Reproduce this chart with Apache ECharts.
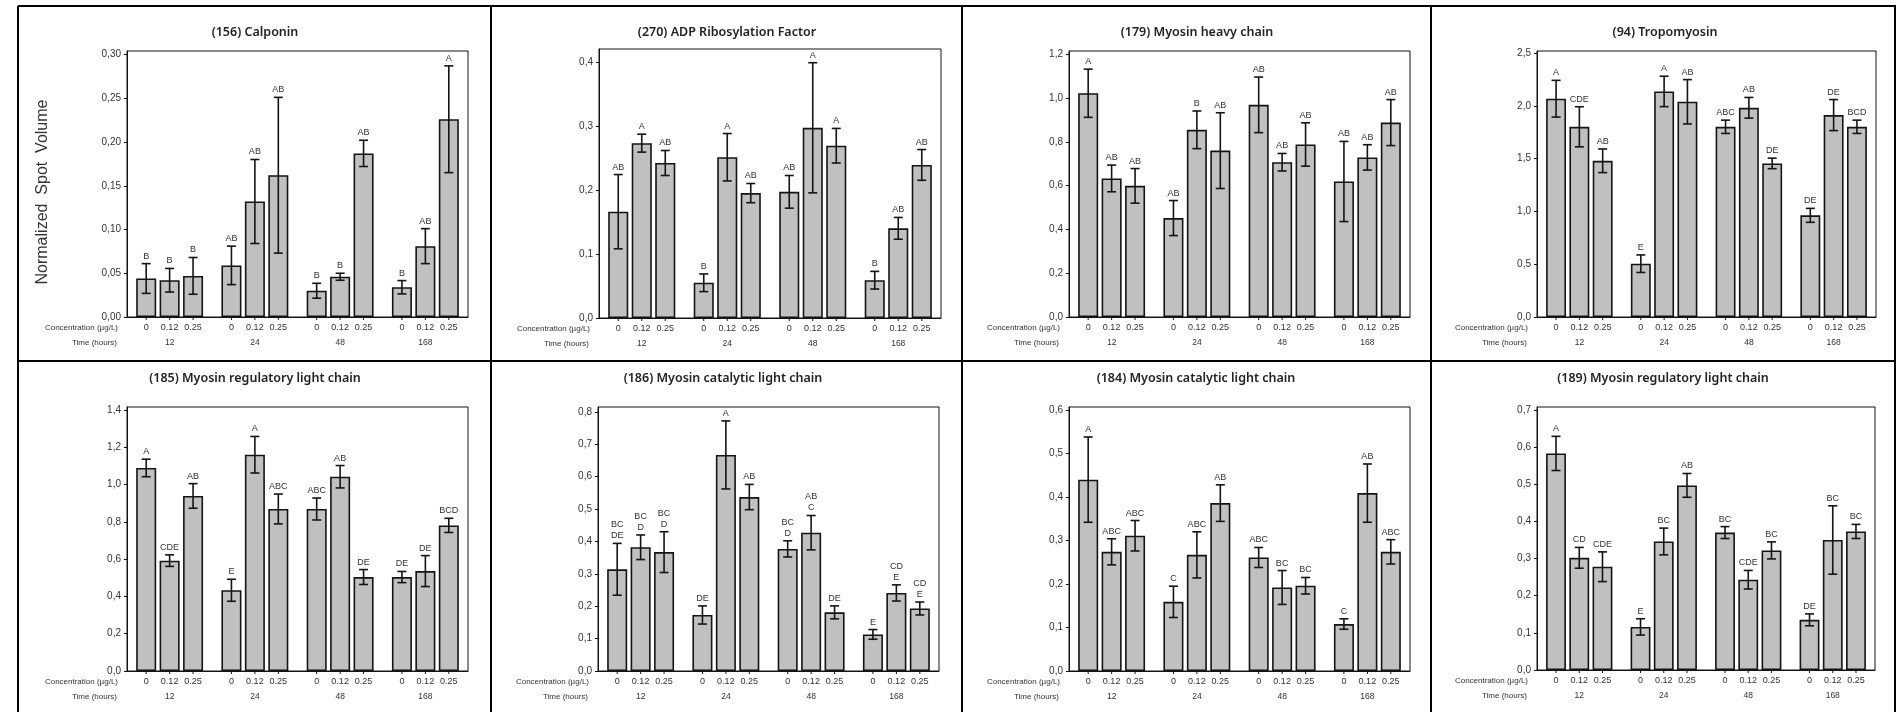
<!DOCTYPE html>
<html>
<head>
<meta charset="utf-8">
<script src="https://cdn.jsdelivr.net/npm/echarts@6/dist/echarts.min.js"></script>
<style>
  html, body { margin: 0; padding: 0; background: #fff; }
  #chart { width: 1903px; height: 712px; }
</style>
</head>
<body>
<div id="chart"></div>
<script>
// Shared categories
const times = ['12', '24', '48', '168'];
const concentrations = ['0', '0.12', '0.25'];

// Values are listed time-major: 12h (0, 0.12, 0.25), 24h (...), 48h (...), 168h (...)

// (156) Calponin
const calponinMean = [0.044, 0.042, 0.047, 0.059, 0.132, 0.162, 0.030, 0.046, 0.187, 0.034, 0.081, 0.226];
const calponinErr = [0.017, 0.0135, 0.021, 0.022, 0.048, 0.089, 0.0085, 0.004, 0.015, 0.0076, 0.020, 0.061];
const calponinLetters = ['B', 'B', 'B', 'AB', 'AB', 'AB', 'B', 'B', 'AB', 'B', 'AB', 'A'];
const calponinTicks = [0, 0.05, 0.10, 0.15, 0.20, 0.25, 0.30];

// (270) ADP Ribosylation Factor
const arfMean = [0.166, 0.273, 0.242, 0.055, 0.251, 0.195, 0.197, 0.297, 0.269, 0.059, 0.140, 0.239];
const arfErr = [0.058, 0.014, 0.0195, 0.0138, 0.037, 0.015, 0.0255, 0.1016, 0.027, 0.0138, 0.017, 0.024];
const arfLetters = ['AB', 'A', 'AB', 'B', 'A', 'AB', 'AB', 'A', 'A', 'B', 'AB', 'AB'];
const arfTicks = [0, 0.1, 0.2, 0.3, 0.4];

// (179) Myosin heavy chain
const mhcMean = [1.022, 0.633, 0.599, 0.452, 0.855, 0.760, 0.969, 0.707, 0.788, 0.619, 0.729, 0.888];
const mhcErr = [0.110, 0.061, 0.079, 0.080, 0.086, 0.173, 0.127, 0.040, 0.099, 0.183, 0.058, 0.105];
const mhcLetters = ['A', 'AB', 'AB', 'AB', 'B', 'AB', 'AB', 'AB', 'AB', 'AB', 'AB', 'AB'];
const mhcTicks = [0, 0.2, 0.4, 0.6, 0.8, 1.0, 1.2];

// (94) Tropomyosin
const tropoMean = [2.068, 1.802, 1.480, 0.505, 2.137, 2.039, 1.802, 1.982, 1.455, 0.963, 1.913, 1.802];
const tropoErr = [0.174, 0.190, 0.112, 0.083, 0.144, 0.210, 0.063, 0.098, 0.050, 0.066, 0.147, 0.063];
const tropoLetters = ['A', 'CDE', 'AB', 'E', 'A', 'AB', 'ABC', 'AB', 'DE', 'DE', 'DE', 'BCD'];
const tropoTicks = [0, 0.5, 1.0, 1.5, 2.0, 2.5];

// (185) Myosin regulatory light chain
const mrlc185Mean = [1.089, 0.592, 0.939, 0.433, 1.160, 0.869, 0.869, 1.042, 0.504, 0.504, 0.536, 0.781];
const mrlc185Err = [0.047, 0.031, 0.066, 0.059, 0.098, 0.080, 0.059, 0.060, 0.040, 0.030, 0.083, 0.038];
const mrlc185Letters = ['A', 'CDE', 'AB', 'E', 'A', 'ABC', 'ABC', 'AB', 'DE', 'DE', 'DE', 'BCD'];
const mrlc185Ticks = [0, 0.2, 0.4, 0.6, 0.8, 1.0, 1.2, 1.4];

// (186) Myosin catalytic light chain
const mclc186Mean = [0.314, 0.382, 0.367, 0.173, 0.667, 0.537, 0.377, 0.427, 0.181, 0.113, 0.241, 0.193];
const mclc186Err = [0.080, 0.038, 0.063, 0.028, 0.105, 0.039, 0.025, 0.053, 0.020, 0.015, 0.025, 0.020];
const mclc186Letters = ['BC\nDE', 'BC\nD', 'BC\nD', 'DE', 'A', 'AB', 'BC\nD', 'AB\nC', 'DE', 'E', 'CD\nE', 'CD\nE'];
const mclc186Ticks = [0, 0.1, 0.2, 0.3, 0.4, 0.5, 0.6, 0.7, 0.8];

// (184) Myosin catalytic light chain
const mclc184Mean = [0.440, 0.274, 0.311, 0.159, 0.267, 0.386, 0.261, 0.192, 0.196, 0.108, 0.409, 0.274];
const mclc184Err = [0.098, 0.030, 0.035, 0.036, 0.053, 0.042, 0.023, 0.039, 0.019, 0.012, 0.067, 0.028];
const mclc184Letters = ['A', 'ABC', 'ABC', 'C', 'ABC', 'AB', 'ABC', 'BC', 'BC', 'C', 'AB', 'ABC'];
const mclc184Ticks = [0, 0.1, 0.2, 0.3, 0.4, 0.5, 0.6];

// (189) Myosin regulatory light chain
const mrlc189Mean = [0.583, 0.302, 0.278, 0.116, 0.346, 0.497, 0.370, 0.243, 0.322, 0.135, 0.350, 0.373];
const mrlc189Err = [0.046, 0.028, 0.040, 0.022, 0.036, 0.032, 0.016, 0.025, 0.023, 0.016, 0.092, 0.019];
const mrlc189Letters = ['A', 'CD', 'CDE', 'E', 'BC', 'AB', 'BC', 'CDE', 'BC', 'DE', 'BC', 'BC'];
const mrlc189Ticks = [0, 0.1, 0.2, 0.3, 0.4, 0.5, 0.6, 0.7];

const panels = [
  { title: '(156) Calponin', mean: calponinMean, err: calponinErr, letters: calponinLetters, ticks: calponinTicks, decimals: 2 },
  { title: '(270) ADP Ribosylation Factor', mean: arfMean, err: arfErr, letters: arfLetters, ticks: arfTicks, decimals: 1 },
  { title: '(179) Myosin heavy chain', mean: mhcMean, err: mhcErr, letters: mhcLetters, ticks: mhcTicks, decimals: 1 },
  { title: '(94) Tropomyosin', mean: tropoMean, err: tropoErr, letters: tropoLetters, ticks: tropoTicks, decimals: 1 },
  { title: '(185) Myosin regulatory light chain', mean: mrlc185Mean, err: mrlc185Err, letters: mrlc185Letters, ticks: mrlc185Ticks, decimals: 1 },
  { title: '(186) Myosin catalytic light chain', mean: mclc186Mean, err: mclc186Err, letters: mclc186Letters, ticks: mclc186Ticks, decimals: 1 },
  { title: '(184) Myosin catalytic light chain', mean: mclc184Mean, err: mclc184Err, letters: mclc184Letters, ticks: mclc184Ticks, decimals: 1 },
  { title: '(189) Myosin regulatory light chain', mean: mrlc189Mean, err: mrlc189Err, letters: mrlc189Letters, ticks: mrlc189Ticks, decimals: 1 }
];

// Plot-area geometry of each panel (px) and the head-room above the top tick (axis units)
const layout = [
  { left: 127, top: 51, width: 341, height: 266, headroom: 0.004, titleX: 255, titleY: 32 },
  { left: 599, top: 49, width: 342, height: 269, headroom: 0.02, titleX: 727, titleY: 32 },
  { left: 1069, top: 51, width: 341, height: 266, headroom: 0.015, titleX: 1197, titleY: 32 },
  { left: 1537, top: 51, width: 339, height: 266, headroom: 0.02, titleX: 1665, titleY: 32 },
  { left: 127, top: 407, width: 341, height: 264, headroom: 0.016, titleX: 255, titleY: 378 },
  { left: 598, top: 407, width: 341, height: 264, headroom: 0.015, titleX: 723, titleY: 378 },
  { left: 1069, top: 407, width: 341, height: 264, headroom: 0.007, titleX: 1196, titleY: 378 },
  { left: 1537, top: 407, width: 338, height: 263, headroom: 0.008, titleX: 1663, titleY: 378 }
];

const BAR_FRAC = 0.235;   // bar width as share of a time-group band
const GAP_FRAC = 0.17;    // gap between bars as share of bar width
const INK = '#141414';
const SMALL_FONT = 'Liberation Sans, Arial, sans-serif';

const grid = [], xAxis = [], yAxis = [], series = [], graphic = [];

panels.forEach((p, i) => {
  const L = layout[i];
  const top = p.ticks[p.ticks.length - 1];
  grid.push({ left: L.left, top: L.top, width: L.width, height: L.height, show: true, borderColor: INK, borderWidth: 1, backgroundColor: 'transparent' });
  xAxis.push({
    type: 'category', gridIndex: i, data: times,
    axisLine: { show: true, lineStyle: { color: INK, width: 1 } },
    axisTick: { show: false },
    axisLabel: { margin: 21, fontSize: 8.5, color: '#333', fontFamily: SMALL_FONT },
    splitLine: { show: false }
  });
  yAxis.push({
    type: 'value', gridIndex: i, min: 0, max: top + L.headroom,
    axisLine: { show: true, lineStyle: { color: INK, width: 1 } },
    axisTick: { show: true, length: 3, lineStyle: { color: INK }, customValues: p.ticks },
    axisLabel: {
      customValues: p.ticks, margin: 6, fontSize: 10, color: '#333', fontFamily: SMALL_FONT,
      formatter: v => v.toFixed(p.decimals).replace('.', ',')
    },
    splitLine: { show: false }
  });

  concentrations.forEach((c, ci) => {
    series.push({
      type: 'bar', xAxisIndex: i, yAxisIndex: i, name: c,
      barWidth: (BAR_FRAC * 100) + '%', barGap: (GAP_FRAC * 100) + '%',
      itemStyle: { color: '#c0c0c0', borderColor: INK, borderWidth: 1.6 },
      data: times.map((t, ti) => p.mean[ti * 3 + ci]),
      silent: true, z: 2
    });
  });

  // Error bars, group letters and concentration labels under every bar
  const items = [];
  times.forEach((t, ti) => concentrations.forEach((c, ci) => {
    items.push([ti, ci, p.mean[ti * 3 + ci], p.err[ti * 3 + ci]]);
  }));
  series.push({
    type: 'custom', xAxisIndex: i, yAxisIndex: i, z: 5, silent: true,
    encode: { x: 0, y: 2 },
    data: items,
    renderItem: (params, api) => {
      const ti = api.value(0), ci = api.value(1), m = api.value(2), e = api.value(3);
      const band = api.size([1, 0])[0];
      const bw = band * BAR_FRAC, gap = bw * GAP_FRAC;
      const cx = api.coord([ti, 0])[0] + (ci - 1) * (bw + gap);
      const y0 = api.coord([ti, 0])[1];
      const yHi = api.coord([ti, m + e])[1];
      const yLo = api.coord([ti, m - e])[1];
      const cap = 4.5;
      const st = { stroke: INK, lineWidth: 1.6 };
      return {
        type: 'group',
        children: [
          { type: 'line', shape: { x1: cx, y1: yHi, x2: cx, y2: yLo }, style: st },
          { type: 'line', shape: { x1: cx - cap, y1: yHi, x2: cx + cap, y2: yHi }, style: st },
          { type: 'line', shape: { x1: cx - cap, y1: yLo, x2: cx + cap, y2: yLo }, style: st },
          { type: 'text', style: { text: p.letters[params.dataIndex], x: cx, y: yHi - 2, align: 'center', verticalAlign: 'bottom', fontSize: 9, lineHeight: 11, fill: '#333', fontFamily: SMALL_FONT } },
          { type: 'line', shape: { x1: cx, y1: y0, x2: cx, y2: y0 + 3 }, style: { stroke: INK, lineWidth: 1 } },
          { type: 'text', style: { text: concentrations[ci], x: cx, y: y0 + 11, align: 'center', verticalAlign: 'middle', fontSize: 9, fill: '#333', fontFamily: SMALL_FONT } }
        ]
      };
    }
  });

  graphic.push(
    { type: 'text', style: { text: p.title, x: L.titleX, y: L.titleY, align: 'center', verticalAlign: 'middle', font: '600 12.5px "Noto Sans", sans-serif', fill: '#222' } },
    { type: 'text', style: { text: 'Concentration (µg/L)', x: L.left - 9, y: L.top + L.height + 11, align: 'right', verticalAlign: 'middle', font: '8px ' + SMALL_FONT, fill: '#333' } },
    { type: 'text', style: { text: 'Time (hours)', x: L.left - 10, y: L.top + L.height + 26, align: 'right', verticalAlign: 'middle', font: '8px ' + SMALL_FONT, fill: '#333' } }
  );
});

// Axis title shared by the first column
graphic.push({
  type: 'text', x: 43, y: 192, rotation: Math.PI / 2,
  style: { text: 'Normalized  Spot  Volume', x: 0, y: 0, align: 'center', verticalAlign: 'middle', font: '16px "Liberation Sans", Arial, sans-serif', fill: '#333' }
});

// Panel frames
const frame = { stroke: '#000', lineWidth: 2 };
[[18, 6, 1896, 6], [18, 361, 1896, 361], [18, 6, 18, 712], [491, 6, 491, 712], [962, 6, 962, 712], [1431, 6, 1431, 712], [1895, 6, 1895, 712]]
  .forEach(s => graphic.push({ type: 'line', shape: { x1: s[0], y1: s[1], x2: s[2], y2: s[3] }, style: frame, z: 10 }));

const chart = echarts.init(document.getElementById('chart'), null, { renderer: 'canvas' });
chart.setOption({
  animation: false,
  backgroundColor: '#fff',
  grid, xAxis, yAxis, series, graphic
});
</script>
</body>
</html>
